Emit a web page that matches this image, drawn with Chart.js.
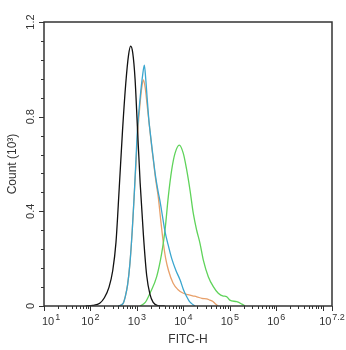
<!DOCTYPE html>
<html>
<head>
<meta charset="utf-8">
<title>FITC-H histogram</title>
<script src="https://cdn.jsdelivr.net/npm/chart.js@4.4.1/dist/chart.umd.min.js"></script>
<style>
  html, body { margin: 0; padding: 0; background: #fff; }
  #wrap { width: 346px; height: 350px; }
</style>
</head>
<body>
<div id="wrap"><canvas id="histo" width="346" height="350"></canvas></div>
<script>
// ── histogram traces: x is log10(FITC-H), y is count in thousands ──
const blackLog   = [1.90, 2.05, 2.20, 2.30, 2.40, 2.48, 2.55, 2.62, 2.69, 2.76, 2.82, 2.866, 2.91, 2.96, 3.01, 3.07, 3.14, 3.21, 3.28, 3.35, 3.45, 3.60];
const blackCount = [0, 0.003, 0.012, 0.035, 0.08, 0.15, 0.27, 0.50, 0.74, 0.94, 1.06, 1.098, 1.07, 0.96, 0.76, 0.52, 0.30, 0.13, 0.05, 0.015, 0.002, 0];

const blueLog   = [2.60, 2.70, 2.75, 2.80, 2.85, 2.90, 2.94, 2.98, 3.01, 3.07, 3.12, 3.16, 3.19, 3.22, 3.26, 3.28, 3.33, 3.40, 3.46, 3.50, 3.55, 3.60, 3.67, 3.75, 3.84, 3.93, 4.00, 4.07, 4.13, 4.18, 4.25];
const blueCount = [0, 0.01, 0.04, 0.09, 0.18, 0.32, 0.46, 0.62, 0.74, 0.88, 0.97, 1.018, 0.96, 0.88, 0.78, 0.744, 0.66, 0.55, 0.48, 0.44, 0.38, 0.32, 0.26, 0.20, 0.15, 0.11, 0.07, 0.04, 0.02, 0.01, 0];

const orangeLog   = [2.60, 2.70, 2.75, 2.80, 2.85, 2.90, 2.94, 2.98, 3.02, 3.07, 3.11, 3.14, 3.18, 3.22, 3.27, 3.32, 3.353, 3.40, 3.46, 3.52, 3.57, 3.62, 3.68, 3.78, 3.88, 4.00, 4.10, 4.20, 4.29, 4.40, 4.50, 4.57, 4.63, 4.68, 4.75];
const orangeCount = [0, 0.01, 0.04, 0.09, 0.18, 0.32, 0.46, 0.60, 0.74, 0.86, 0.93, 0.955, 0.92, 0.85, 0.76, 0.67, 0.617, 0.54, 0.46, 0.35, 0.265, 0.20, 0.15, 0.096, 0.07, 0.054, 0.048, 0.043, 0.039, 0.032, 0.030, 0.025, 0.020, 0.011, 0];

const greenLog   = [3.067, 3.18, 3.282, 3.426, 3.534, 3.605, 3.676, 3.749, 3.82, 3.913, 3.999, 4.072, 4.143, 4.215, 4.287, 4.358, 4.43, 4.537, 4.645, 4.752, 4.86, 4.93, 5.0, 5.15, 5.26, 5.33];
const greenCount = [0, 0.015, 0.054, 0.124, 0.223, 0.32, 0.462, 0.575, 0.645, 0.68, 0.645, 0.575, 0.49, 0.39, 0.32, 0.265, 0.194, 0.124, 0.082, 0.054, 0.042, 0.04, 0.025, 0.018, 0.008, 0];

// ── axis ticks ──
const xMajor      = [1, 2, 3, 4, 5, 6, 7.2];
const xMajorExp   = ['1', '2', '3', '4', '5', '6', '7.2'];
const yMajor      = [0, 0.4, 0.8, 1.2];
const yMajorText  = ['0', '0.4', '0.8', '1.2'];
const yMinorStep  = 0.08;

const FONT = '"Liberation Sans", Arial, sans-serif';
const INK  = '#333';

function pts(xs, ys) {
  return xs.map((x, i) => ({ x, y: ys[i] }));
}

function trace(label, xs, ys, color) {
  return {
    label,
    data: pts(xs, ys),
    borderColor: color,
    borderWidth: 1.3,
    pointRadius: 0,
    showLine: true,
    fill: false,
    tension: 0.4,
    cubicInterpolationMode: 'monotone'
  };
}

// axes, frame, ticks and labels are drawn by hand so the log-style
// superscripts and rotated y labels come out right
const axesPlugin = {
  id: 'flowAxes',
  afterDraw(chart) {
    const ctx = chart.ctx;
    const xs = chart.scales.x, ys = chart.scales.y;
    const { left, right, top, bottom } = chart.chartArea;

    ctx.save();
    ctx.strokeStyle = INK;
    ctx.lineWidth = 1.5;
    ctx.beginPath();
    ctx.moveTo(left, top); ctx.lineTo(right, top); ctx.lineTo(right, bottom);
    ctx.lineTo(left, bottom); ctx.closePath();
    ctx.stroke();

    // x ticks: decades plus 2..9 minors
    ctx.lineWidth = 1;
    ctx.beginPath();
    for (let d = 1; d <= 7; d++) {
      const px = Math.round(xs.getPixelForValue(d)) + 0.5;
      ctx.moveTo(px, bottom); ctx.lineTo(px, bottom + 5);
      for (let k = 2; k <= 9; k++) {
        const v = d + Math.log10(k);
        if (v >= 7.2) break;
        const mx = Math.round(xs.getPixelForValue(v)) + 0.5;
        ctx.moveTo(mx, bottom); ctx.lineTo(mx, bottom + 3);
      }
    }
    const endX = Math.round(xs.getPixelForValue(7.2)) + 0.5;
    ctx.moveTo(endX, bottom); ctx.lineTo(endX, bottom + 5);

    // y ticks
    for (let i = 0; i <= 15; i++) {
      const v = i * yMinorStep;
      const py = Math.round(ys.getPixelForValue(v)) + 0.5;
      const major = i % 5 === 0;
      ctx.moveTo(left, py); ctx.lineTo(left - (major ? 5 : 3), py);
    }
    ctx.stroke();

    // x tick labels: 10 with a raised exponent
    ctx.fillStyle = INK;
    ctx.textBaseline = 'alphabetic';
    ctx.textAlign = 'left';
    xMajor.forEach((v, i) => {
      ctx.font = '11px ' + FONT;
      const wb = ctx.measureText('10').width;
      ctx.font = '9px ' + FONT;
      const we = ctx.measureText(xMajorExp[i]).width;
      let x0 = xs.getPixelForValue(v) - (wb + 1 + we) / 2;
      if (i === 0) x0 = xs.getPixelForValue(v) - 2;
      ctx.font = '11px ' + FONT;
      ctx.fillText('10', x0, bottom + 19);
      ctx.font = '9px ' + FONT;
      ctx.fillText(xMajorExp[i], x0 + wb + 1, bottom + 14);
    });

    // y tick labels, rotated
    ctx.font = '11px ' + FONT;
    ctx.textAlign = 'center';
    ctx.textBaseline = 'middle';
    yMajor.forEach((v, i) => {
      ctx.save();
      ctx.translate(left - 13, ys.getPixelForValue(v));
      ctx.rotate(-Math.PI / 2);
      ctx.fillText(yMajorText[i], 0, 0);
      ctx.restore();
    });

    // axis titles
    ctx.font = '12px ' + FONT;
    ctx.fillText('FITC-H', (left + right) / 2, bottom + 34);
    ctx.save();
    ctx.translate(13, (top + bottom) / 2);
    ctx.rotate(-Math.PI / 2);
    ctx.fillText('Count (10³)', 0, 0);
    ctx.restore();
    ctx.restore();
  }
};

new Chart(document.getElementById('histo'), {
  type: 'scatter',
  data: {
    datasets: [
      trace('control', blackLog, blackCount, '#111111'),
      trace('isotype', blueLog, blueCount, '#3aa6cf'),
      trace('sample', greenLog, greenCount, '#5fd35a'),
      trace('blank', orangeLog, orangeCount, '#e8a06a')
    ]
  },
  options: {
    responsive: false,
    devicePixelRatio: 1,
    animation: false,
    layout: { padding: { left: 44, right: 14, top: 22, bottom: 44 } },
    plugins: { legend: { display: false }, tooltip: { enabled: false } },
    scales: {
      x: { type: 'linear', min: 1, max: 7.2, display: false },
      y: { type: 'linear', min: 0, max: 1.2, display: false }
    }
  },
  plugins: [axesPlugin]
});
</script>
</body>
</html>
